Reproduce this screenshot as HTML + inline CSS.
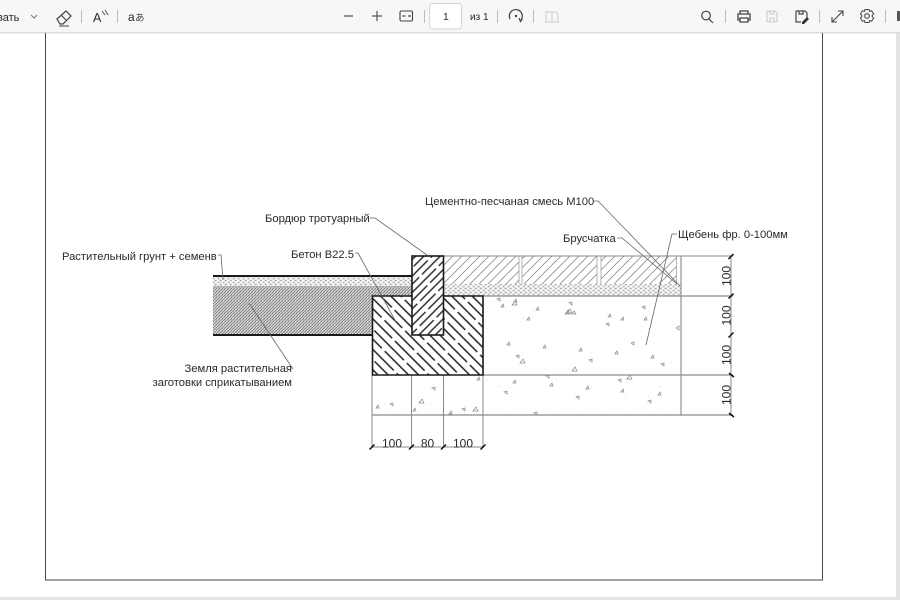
<!DOCTYPE html>
<html lang="ru">
<head>
<meta charset="utf-8">
<style>
html,body{margin:0;padding:0;background:#fff;width:900px;height:600px;overflow:hidden}
svg{display:block;position:absolute;left:0;top:0;filter:blur(.35px)}
text{font-family:"Liberation Sans",sans-serif;fill:#2a2a2a}
</style>
</head>
<body>
<svg width="900" height="600" viewBox="0 0 900 600" xmlns="http://www.w3.org/2000/svg">
<defs>
<pattern id="dark" width="3" height="3" patternUnits="userSpaceOnUse">
<rect width="3" height="3" fill="#c4c4c4"/>
<rect x="0" y="0" width="1" height="1" fill="#7c7c7c"/>
<rect x="2" y="1" width="1" height="1" fill="#8c8c8c"/>
<rect x="1" y="2" width="1" height="1" fill="#909090"/>
<rect x="1" y="0" width="1" height="1" fill="#dcdcdc"/>
</pattern>
<pattern id="sand" width="5" height="4" patternUnits="userSpaceOnUse">
<rect width="5" height="4" fill="#e6e6e6"/>
<rect x="0" y="0" width="1.5" height="1" fill="#a0a0a0"/>
<rect x="3" y="2" width="1.5" height="1" fill="#b0b0b0"/>
<rect x="2" y="0" width="2" height="1" fill="#fff"/>
<rect x="0" y="2" width="2" height="1" fill="#fff"/>
</pattern>
<pattern id="thin" width="9" height="9" patternUnits="userSpaceOnUse" patternTransform="translate(444 256)">
<path d="M-1 10L10 -1M-5 5L5 -5M4 14L14 4" stroke="#8e8e8e" stroke-width=".8" fill="none"/>
</pattern>
<pattern id="con" width="14.4" height="46" patternUnits="userSpaceOnUse" patternTransform="rotate(-45 372 296)">
<line x1="3.6" y1="0" x2="3.6" y2="42" stroke="#222" stroke-width="1.5"/>
<line x1="10.8" y1="-24" x2="10.8" y2="18" stroke="#222" stroke-width="1.5"/>
<line x1="10.8" y1="22" x2="10.8" y2="64" stroke="#222" stroke-width="1.5"/>
</pattern>
<pattern id="kerb" width="11.6" height="38" patternUnits="userSpaceOnUse" patternTransform="rotate(45 412 256)">
<line x1="2.9" y1="0" x2="2.9" y2="34" stroke="#222" stroke-width="1.4"/>
<line x1="8.7" y1="-18" x2="8.7" y2="16" stroke="#222" stroke-width="1.4"/>
<line x1="8.7" y1="20" x2="8.7" y2="54" stroke="#222" stroke-width="1.4"/>
</pattern>
<pattern id="grav" width="23" height="17" patternUnits="userSpaceOnUse">
<rect x="4" y="5" width="1" height="1" fill="#e6e6e6"/>
<rect x="16" y="12" width="1" height="1" fill="#e6e6e6"/>
</pattern>
</defs>

<!-- viewer background -->
<rect width="900" height="600" fill="#fff"/>
<rect x="896" y="33" width="4" height="567" fill="#e4e4e4"/>
<rect x="0" y="597" width="900" height="3" fill="#e4e4e4"/>

<!-- toolbar -->
<rect width="900" height="32" fill="#f7f7f7"/>
<rect y="32" width="900" height="1.500" fill="#dcdcdc"/>
<text x="-3" y="21" font-size="11" fill="#444">вать</text>
<path d="M31 15l3 3 3-3" fill="none" stroke="#777" stroke-width="1"/>
<path d="M57 19l9-8 5 5-8 8h-3zM61 15l5 5" fill="none" stroke="#444" stroke-width="1.200"/>
<path d="M59 26h10" stroke="#444" stroke-width="1"/>
<g fill="#bbb"><rect x="81" y="10" width="1" height="13"/><rect x="117" y="10" width="1" height="13"/><rect x="424" y="10" width="1" height="13"/><rect x="497" y="10" width="1" height="13"/><rect x="533" y="10" width="1" height="13"/><rect x="725" y="10" width="1" height="13"/><rect x="819" y="10" width="1" height="13"/><rect x="885" y="10" width="1" height="13"/></g>
<text x="93" y="22" font-size="12.500" fill="#444">A</text>
<path d="M102 11l3 4M105 10l3 5" fill="none" stroke="#555" stroke-width="1"/>
<text x="128" y="21" font-size="12" fill="#444">a</text>
<text x="135" y="21" font-size="9.500" style="font-family:'Noto Sans CJK JP',sans-serif;fill:#444">あ</text>
<path d="M344 16h9M372 16h10M377 11v10" stroke="#555" stroke-width="1.200" fill="none"/>
<rect x="400" y="11" width="12.500" height="10" rx="1.500" fill="none" stroke="#444" stroke-width="1.100"/>
<path d="M402.500 16h3M408 16h3" stroke="#444" stroke-width="1.200"/>
<rect x="429.500" y="3.500" width="32" height="25.500" rx="3" fill="#fff" stroke="#d4d4d4"/>
<text x="443" y="20" font-size="10.500" fill="#444">1</text>
<text x="470" y="20" font-size="10" fill="#555">из 1</text>
<path d="M510 19a6.500 6.500 0 1 1 11 1M519 18l1.500 3.500 2-3" fill="none" stroke="#444" stroke-width="1.200"/>
<circle cx="516" cy="16" r="1.200" fill="#444"/>
<path d="M546 12h6v10h-6zM552 12h4l2 2v8h-6" fill="none" stroke="#ccc" stroke-width="1"/>
<circle cx="706" cy="15.500" r="4.300" fill="none" stroke="#444" stroke-width="1.200"/>
<path d="M709 19l4 4" stroke="#444" stroke-width="1.200"/>
<path d="M740 14v-3h8v3M740 20h-2v-6h12v6h-2M740 18h8v4h-8z" fill="none" stroke="#444" stroke-width="1.300"/>
<path d="M767 11h8l2 2v9h-10zM770 22v-4h4v4M770 11v3h4v-3" fill="none" stroke="#ccc" stroke-width="1.100"/>
<path d="M796 11h9l2 2v5M796 11v11h5M799 11v3h4v-3" fill="none" stroke="#444" stroke-width="1.200"/>
<path d="M802 22l5-5 2 2-5 5h-2z" fill="#333"/>
<path d="M832 22l11-11M838 11h5v5M832 17v5h5" fill="none" stroke="#444" stroke-width="1.100"/>
<circle cx="867" cy="16" r="2.300" fill="none" stroke="#444" stroke-width="1.100"/>
<path d="M865 9.500h4l.6 2 2-.8 2 3.300-1.500 1.500v1l1.500 1.500-2 3.300-2-.8-.6 2h-4l-.6-2-2 .8-2-3.300 1.500-1.500v-1l-1.500-1.500 2-3.300 2 .8z" fill="none" stroke="#444" stroke-width="1"/>
<rect x="897" y="11" width="3" height="10" fill="#555"/>

<!-- page border -->
<path d="M45.500 33V580H822.500V33" fill="none" stroke="#4a4a4a" stroke-width="1"/>

<!-- gravel -->
<rect x="372" y="296" width="309" height="119" fill="url(#grav)"/>

<!-- left soil -->
<rect x="213" y="276" width="199" height="10" fill="url(#sand)"/>
<rect x="213" y="286" width="160" height="49" fill="url(#dark)"/>
<rect x="372" y="286" width="40" height="10" fill="url(#dark)"/>

<!-- paving -->
<rect x="444" y="256" width="232.500" height="28" fill="url(#thin)"/>
<rect x="519" y="256" width="3" height="28" fill="#fff"/>
<rect x="597" y="256" width="4" height="28" fill="#fff"/>
<rect x="677" y="256" width="4" height="28" fill="#fff"/>
<path d="M519 256v28M522 256v28M597 256v28M601 256v28M676.500 256v28" stroke="#a0a0a0" stroke-width=".8"/>
<rect x="444" y="284" width="237" height="12" fill="url(#sand)"/>

<!-- thin lines -->
<g stroke="#8a8a8a" stroke-width="1" fill="none">
<path d="M444 256H733"/>
<path d="M444 296H733M483 375H733M372 415H733" stroke-width="1.200"/>
<path d="M681 256V415" stroke-width="1.100"/>
<path d="M731 255V416"/>
<path d="M372 375V448M411.500 375V448M443.500 375V448M483 375V448"/>
<path d="M371 447H484"/>
</g>

<!-- concrete + kerb -->
<path d="M372.500 296H483V375H372.500z" fill="#fff"/>
<path d="M372.500 296H483V375H372.500z" fill="url(#con)" stroke="#1a1a1a" stroke-width="1.600"/>
<rect x="412" y="256" width="31.500" height="79" fill="#fff"/>
<rect x="412" y="256" width="31.500" height="79" fill="url(#kerb)" stroke="#1a1a1a" stroke-width="1.600"/>
<path d="M213 276H412M213 335H372.500" stroke="#1a1a1a" stroke-width="2" fill="none"/>

<!-- triangles -->
<path fill="none" stroke="#888" stroke-width=".7" d="M497 299l3-1v3zM501 307l2-3 1 3zM512 305l3-4 2 4zM536 310l2-3 1 3zM569 303l3-1v3zM565 314l3-4 2 4zM572 314l2-3 2 3zM642 307l3-1v3zM527 320l2-3 1 3zM608 317l2-3 1 3zM621 320l2-3 1 3zM644 320l2-3 1 3zM514 302l2-3 1 3zM567 313l3-4 2 4zM606 324l3-1v3zM676 328l3-2v4zM507 345l2-3 1 3zM543 348l2-3 1 3zM579 351l2-3 1 3zM631 343l3-1v3zM516 356l3-1v3zM520 363l3-4 2 4zM589 360l3-1v3zM615 354l2-3 1 3zM651 358l2-3 1 3zM661 364l3-1v3zM572 371l3-4 2 4zM627 379l3-4 2 4zM546 376l3-1v3zM513 383l2-3 1 3zM550 386l2-3 1 3zM618 380l3-1v3zM586 389l2-3 1 3zM504 392l3-1v3zM621 392l2-3 1 3zM576 397l3-1v3zM658 395l2-3 1 3zM648 401l3-1v3zM534 413l3-1v3zM477 380l2-3 1 3zM432 388l3-1v3zM419 403l3-4 2 4zM376 408l2-3 1 3zM390 404l3-1v3zM413 411l2-3 1 3zM449 414l2-3 1 3zM462 409l3-1v3zM473 411l3-4 2 4z"/>

<!-- leaders -->
<g stroke="#666" stroke-width=".8" fill="none">
<path d="M593 201H598L680 286"/>
<path d="M617 238H622L677 284"/>
<path d="M677 234H672L646 345"/>
<path d="M370 218H375L427 255"/>
<path d="M355 253H358L396 322"/>
<path d="M218 255H221L223 280"/>
<path d="M293 369L249 303"/>
</g>

<!-- dimension ticks -->
<g stroke="#111" stroke-width="1.500" fill="none">
<path d="M728.500 259L733.500 254M728.500 298.500L733.500 293.500M728.500 337.500L733.500 332.500"/>
<path d="M729 373L734 377M729 413L734 417"/>
<path d="M369.500 449.500L374.500 444.500M409 449.500L414 444.500M441 449.500L446 444.500M480.500 449.500L485.500 444.500"/>
</g>

<!-- labels -->
<g font-size="11.200">
<text x="425" y="205">Цементно-песчаная смесь М100</text>
<text x="265" y="222">Бордюр тротуарный</text>
<text x="563" y="242">Брусчатка</text>
<text x="678" y="238">Щебень фр. 0-100мм</text>
<text x="291" y="258">Бетон В22.5</text>
<text x="62" y="260">Растительный грунт + семенв</text>
<text x="292" y="372" text-anchor="end">Земля растительная</text>
<text x="292" y="386" text-anchor="end">заготовки сприкатыванием</text>
</g>
<g font-size="12">
<text x="392" y="447.500" text-anchor="middle">100</text>
<text x="427.500" y="447.500" text-anchor="middle">80</text>
<text x="463" y="447.500" text-anchor="middle">100</text>
<text transform="translate(730.500 276) rotate(-90)" text-anchor="middle">100</text>
<text transform="translate(730.500 315.500) rotate(-90)" text-anchor="middle">100</text>
<text transform="translate(730.500 355) rotate(-90)" text-anchor="middle">100</text>
<text transform="translate(730.500 395) rotate(-90)" text-anchor="middle">100</text>
</g>
</svg>
</body>
</html>
